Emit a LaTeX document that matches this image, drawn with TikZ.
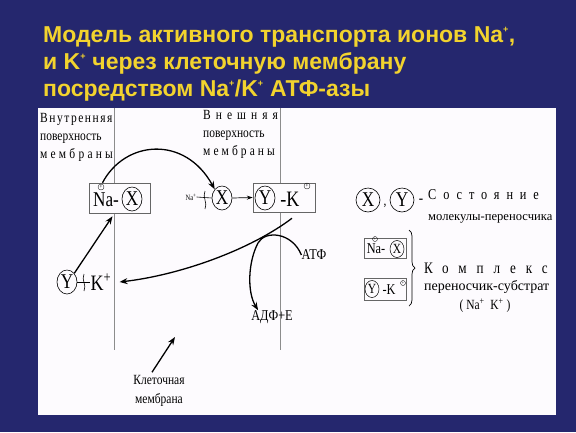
\documentclass[tikz,border=0pt]{standalone}
\usepackage{fontspec}
\setmainfont[FakeStretch=0.82]{Liberation Serif}
\newfontfamily\widefont{Liberation Serif}
\newfontfamily\titlefont{Liberation Sans}
\usetikzlibrary{shapes.geometric,arrows.meta,decorations.pathreplacing}
\definecolor{slideblue}{RGB}{37,39,110}
\definecolor{titleyellow}{RGB}{242,211,46}
\definecolor{paper}{RGB}{253,251,254}
\newcommand\sz[1]{\fontsize{#1}{#1}\selectfont}
\newcommand\spaced[2]{{\addfontfeature{LetterSpace=#1}#2}}
\tikzset{
  carrier/.style={ellipse,draw,line width=0.6pt,inner sep=0pt,minimum width=20pt,minimum height=24pt,font=\sz{21}},
  smallcarrier/.style={ellipse,draw,line width=0.5pt,inner sep=0pt,minimum width=14pt,minimum height=17pt,font=\sz{14}},
  complex/.style={draw=black!60,fill=paper,line width=0.5pt,inner sep=0pt},
  charge/.style={circle,draw,line width=0.3pt,inner sep=0pt,minimum size=6pt,font=\sz{6}},
  surface/.style={font=\fontsize{14}{18}\selectfont,align=left,inner sep=0pt},
  heading/.style={anchor=base west,inner sep=0pt,titleyellow,font=\titlefont\bfseries\sz{23}},
  flow/.style={-{Stealth[length=8pt,width=6pt]},line width=1.3pt},
  membrane/.style={black!45,line width=0.6pt},
}
\begin{document}
\begin{tikzpicture}[x=1pt,y=-1pt]
\useasboundingbox (0,0) rectangle (576,432);
\fill[slideblue] (0,0) rectangle (576,432);
\node[heading] (title1) at (43,42) {Модель активного транспорта ионов Na\textsuperscript{\small+},};
\node[heading] (title2) at (43,69) {и K\textsuperscript{\small+} через клеточную мембрану};
\node[heading] (title3) at (43,96) {посредством Na\textsuperscript{\small+}/K\textsuperscript{\small+} АТФ-азы};
\fill[paper] (38,108) rectangle (556,415);
\draw[membrane] (114,108) -- (114,350);
\draw[membrane] (280,108) -- (280,350);
\node[surface,anchor=north west] (inner) at (40,113) {\spaced{11}{Внутренняя}\\поверхность\\\spaced{23}{мембраны}};
\node[surface,anchor=north west] (outer) at (203,110) {\spaced{36}{Внешняя}\\поверхность\\\spaced{22}{мембраны}};
\node[complex,minimum width=61pt,minimum height=30pt] (naxbox) at (119.5,198) {};
\node[font=\sz{21},inner sep=0pt] (na1) at (106,200) {Na-};
\node[carrier] (x1) at (132,199) {X};
\node[charge] (c1) at (101,187) {+};
\node[font=\sz{8},inner sep=0pt] (naplus) at (191,197) {Na\textsuperscript{+}};
\node[carrier] (x2) at (222,198) {X};
\draw[line width=0.6pt] (naplus.east) -- (x2.west);
\draw[line width=0.6pt] (205,191) .. controls (202,197) and (208,203) .. (205,209);
\node[complex,minimum width=62pt,minimum height=29pt] (ykbox) at (284,197.5) {};
\node[carrier] (y1) at (265,198) {Y};
\node[font=\sz{22},inner sep=0pt] (k1) at (290,199) {-K};
\node[charge] (c2) at (307,186) {+};
\draw[-{Stealth[length=6pt,width=4pt]},line width=0.7pt] (x2.east) -- (ykbox.west);
\node[carrier] (y2) at (67,282) {Y};
\node[font=\sz{22},inner sep=0pt] (kplus) at (101,282) {K\textsuperscript{+}};
\draw[line width=0.6pt] (y2.east) -- (kplus.west);
\draw[line width=0.6pt] (84,274) .. controls (81,280) and (87,285) .. (84,291);
\node[font=\sz{15},inner sep=0pt] (atp) at (314,255) {АТФ};
\node[font=\sz{15},inner sep=0pt] (adp) at (272,317) {АДФ+Е};
\node[font=\fontsize{14}{19}\selectfont,align=center,inner sep=0pt] (cell) at (159,391) {Клеточная\\мембрана};
\coordinate (memtip) at (175,337);
\draw[flow] ([xshift=-17pt]naxbox.north) .. controls (125,140) and (185,135) .. (x2.north west);
\draw[flow] ([xshift=8pt,yshift=-6pt]ykbox.south) .. controls (250,250) and (180,275) .. ([xshift=8pt]kplus.east);
\draw[flow] (atp.west) .. controls (292,232) and (265,230) .. (258,243) .. controls (248,262) and (247,292) .. ([xshift=7pt]adp.north west);
\draw[flow] (y2.north east) -- ([xshift=-7pt,yshift=-3pt]naxbox.south);
\draw[flow] ([xshift=-7pt,yshift=3pt]cell.north) -- (memtip);
\node[carrier,minimum width=24pt] (x3) at (368,200) {X};
\node[font=\sz{14},inner sep=0pt] (comma) at (385,206) {,};
\node[carrier,minimum width=24pt] (y3) at (402,200) {Y};
\node[font=\sz{16},inner sep=0pt] (dash) at (421,201) {-};
\node[font=\sz{15},inner sep=0pt,anchor=west] (state) at (428,195) {\spaced{46}{Состояние}};
\node[font=\widefont\sz{12.6},inner sep=0pt,anchor=west] (molecule) at (428,219) {молекулы-переносчика};
\node[complex,minimum width=42pt,minimum height=20pt] (naxkey) at (385,248) {};
\node[font=\sz{15},inner sep=0pt] (na2) at (376,249) {Na-};
\node[smallcarrier] (x4) at (397,249) {X};
\node[charge,minimum size=5pt,font=\sz{5}] (c3) at (375,239) {+};
\node[complex,minimum width=42pt,minimum height=22pt] (ykkey) at (385,289) {};
\node[smallcarrier] (y4) at (372,289) {Y};
\node[font=\sz{15},inner sep=0pt] (k2) at (389,290) {-K};
\node[charge,minimum size=5pt,font=\sz{5}] (c4) at (403,283) {+};
\draw[decorate,decoration={brace,amplitude=6pt},line width=0.7pt] (409,230) -- (409,306);
\node[font=\sz{16},inner sep=0pt,anchor=west] (complexlabel) at (424,268) {\spaced{62}{Комплекс}};
\node[font=\widefont\sz{14},inner sep=0pt,anchor=west] (pair) at (424,287) {переносчик-субстрат};
\node[font=\sz{14},inner sep=0pt] (ions) at (485,306) {( Na\textsuperscript{+}\ \ K\textsuperscript{+} )};
\end{tikzpicture}
\end{document}
